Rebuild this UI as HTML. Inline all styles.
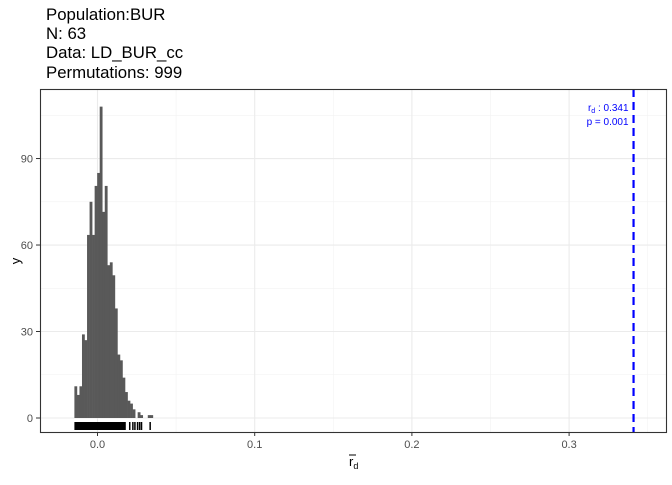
<!DOCTYPE html>
<html><head><meta charset="utf-8"><style>
body{margin:0;background:#fff;font-family:"Liberation Sans",sans-serif;}
</style></head><body>
<svg width="672" height="480" xmlns="http://www.w3.org/2000/svg" font-family="Liberation Sans, sans-serif">
<g font-size="16.8" fill="#000">
<text x="46" y="20">Population:BUR</text>
<text x="46" y="39">N: 63</text>
<text x="46" y="58">Data: LD_BUR_cc</text>
<text x="46" y="78">Permutations: 999</text>
</g>
<g id="grid"></g>
<g id="bars"></g>
<g id="rug"></g>
<g id="axes"></g>
<rect x="40.5" y="89.5" width="626" height="343" fill="none" stroke="#333" stroke-width="1.1"/>
<text x="20" y="261" font-size="13" text-anchor="middle" transform="rotate(-90 20 261)">y</text>
<text x="349" y="466" font-size="13">r<tspan font-size="9" dy="3">d</tspan></text>
<line x1="349" y1="455" x2="356" y2="455" stroke="#000"/>
</svg>
<script>
const binStart=-0.0147, binWidth=0.00161;
const counts=[11,8,11,29,27,63.5,75,63.5,80.5,85,108,71.5,80.5,53,54,49.5,38,22,20,14,9,6,5,3,0,2,1,0,0,1,1];
const rugValues=[-0.0147,0.0180,0.0205,0.0225,0.0238,0.0255,0.0268,0.0280,0.0335];
const xTicks=[0,0.1,0.2,0.3], xTickLabels=["0.0","0.1","0.2","0.3"];
const yTicks=[0,30,60,90], yTickLabels=["0","30","60","90"];
const observed=0.341, pValue="0.001", obsLabel="0.341";
const NS="http://www.w3.org/2000/svg";
const X=v=>97.5+v*1572, Y=v=>418-v*2.883;
function mk(p,t,a){const e=document.createElementNS(NS,t);for(const k in a)e.setAttribute(k,a[k]);p.appendChild(e);return e;}
const grid=document.getElementById('grid'),bars=document.getElementById('bars'),rug=document.getElementById('rug'),axes=document.getElementById('axes');
[-0.05,0.05,0.15,0.25,0.35].forEach(v=>{if(X(v)>40&&X(v)<666){const l=mk(grid,'line',{x1:X(v),x2:X(v),y1:89,y2:432,stroke:'#f2f2f2','stroke-width':0.6});}});
[15,45,75,105].forEach(v=>{const l=mk(grid,'line',{x1:40,x2:666,y1:Y(v),y2:Y(v),stroke:'#f2f2f2','stroke-width':0.6});});
xTicks.forEach((v,i)=>{const l=mk(grid,'line',{x1:X(v),x2:X(v),y1:89,y2:432,stroke:'#ebebeb','stroke-width':1.1});
const t=mk(axes,'line',{x1:X(v),x2:X(v),y1:432,y2:436,stroke:'#333'});
const tx=mk(axes,'text',{x:X(v),y:448,'font-size':11,fill:'#4d4d4d','text-anchor':'middle'});tx.textContent=xTickLabels[i];});
yTicks.forEach((v,i)=>{const l=mk(grid,'line',{x1:40,x2:666,y1:Y(v),y2:Y(v),stroke:'#ebebeb','stroke-width':1.1});
const t=mk(axes,'line',{x1:36,x2:40,y1:Y(v),y2:Y(v),stroke:'#333'});
const tx=mk(axes,'text',{x:33,y:Y(v)+4,'font-size':11,fill:'#4d4d4d','text-anchor':'end'});tx.textContent=yTickLabels[i];});
counts.forEach((c,i)=>{if(c<=0)return;const x0=X(binStart+i*binWidth),x1=X(binStart+(i+1)*binWidth);
const r=mk(bars,'rect',{x:x0,y:Y(c),width:x1-x0+0.3,height:Y(0)-Y(c),fill:'#595959'});});
const rr=mk(rug,'rect',{x:X(rugValues[0]),y:422,width:X(rugValues[1])-X(rugValues[0]),height:8,fill:'#000'});
rugValues.slice(2).forEach(v=>{const l=mk(rug,'line',{x1:X(v),x2:X(v),y1:422,y2:430,stroke:'#000','stroke-width':1.5});});
const ol=mk(axes,'line',{x1:X(observed),x2:X(observed),y1:89,y2:432,stroke:'#0000ff','stroke-width':2.2,'stroke-dasharray':'8,5'});
const t1=mk(axes,'text',{x:X(observed)-5,y:111,'font-size':10,fill:'#0000ff','text-anchor':'end'});t1.textContent='r';
const ts=mk(t1,'tspan',{'font-size':7,dy:2});ts.textContent='d';const ts2=mk(t1,'tspan',{dy:-2});ts2.textContent=' : '+obsLabel;

const t2=mk(axes,'text',{x:X(observed)-5,y:125,'font-size':10,fill:'#0000ff','text-anchor':'end'});t2.textContent='p = '+pValue;

</script>
</body></html>
